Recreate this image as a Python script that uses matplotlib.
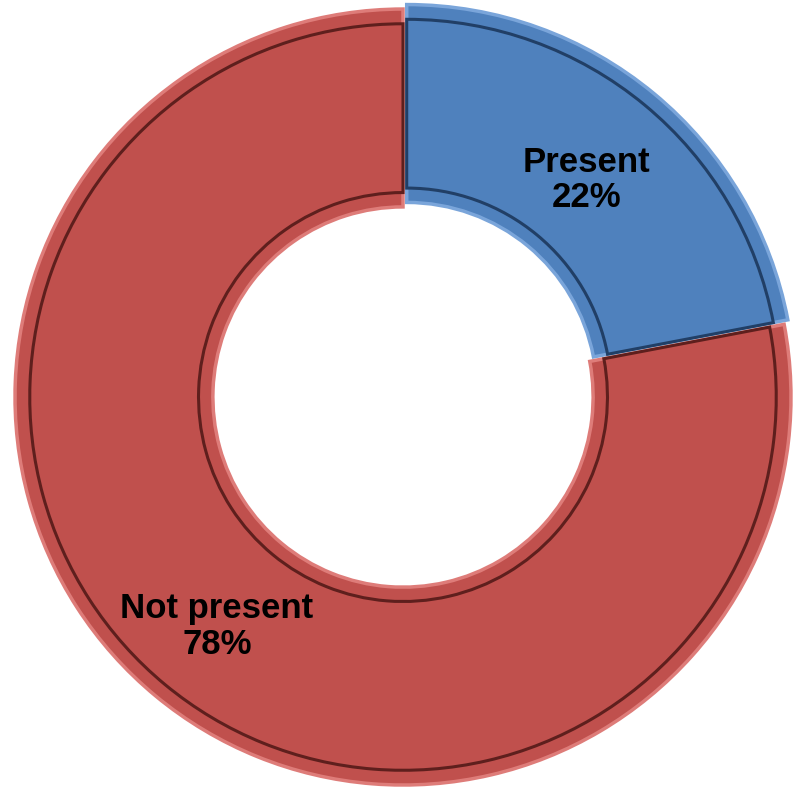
import matplotlib
matplotlib.use("Agg")
import matplotlib.pyplot as plt
import numpy as np

categories = ["Present", "Not present"]
values = [22, 78]
colors = ["#4F81BD", "#C0504D"]
light = ["#7AA5DA", "#DE7C79"]
dark = ["#213F66", "#5E1F1D"]

fig = plt.figure(figsize=(7.97, 7.87), dpi=100)
ax = fig.add_axes([0, 0, 1, 1])
ax.axis("off")

explode = [0.015, 0.0]
wedges, _ = ax.pie(values, colors=colors, startangle=90, counterclock=False,
                   explode=explode, radius=1.0,
                   wedgeprops=dict(width=0.51, linewidth=2.5))
for w, e in zip(wedges, light):
    w.set_edgecolor(e)

# inner bevel outline
wedges2, _ = ax.pie(values, colors=colors, startangle=90, counterclock=False,
                    explode=explode, radius=0.962,
                    wedgeprops=dict(width=0.435, linewidth=2.2))
for w, d in zip(wedges2, dark):
    w.set_edgecolor(d)

ax.set_aspect("equal")
ax.set_xlim(-1.0387, 1.0155)
ax.set_ylim(-1.005, 1.0232)

for w, cat, v in zip(wedges, categories, values):
    ang = np.deg2rad((w.theta1 + w.theta2) / 2)
    cx, cy = w.center
    r = 0.74
    ax.text(cx + r * np.cos(ang) - 0.008, cy + r * np.sin(ang) - 0.022, f"{cat}\n{v}%",
            ha="center", va="center", fontsize=25, fontweight="bold",
            family=["Liberation Sans", "DejaVu Sans"], linespacing=1.1)

fig.savefig("out.png", dpi=100)
